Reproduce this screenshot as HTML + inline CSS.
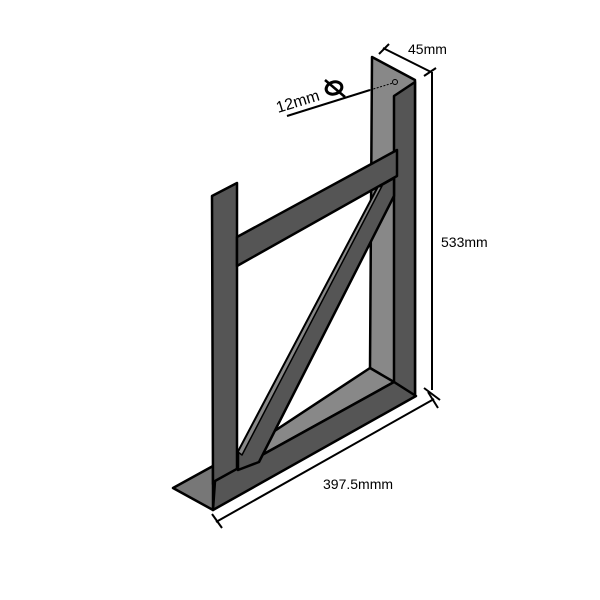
<!DOCTYPE html>
<html><head><style>body{margin:0;background:#fff}svg{display:block}</style></head><body>
<svg width="600" height="600" viewBox="0 0 600 600" xmlns="http://www.w3.org/2000/svg" font-family="Liberation Sans, sans-serif">
<g stroke="#000" stroke-width="2.5" stroke-linejoin="round">
<!-- right post back face -->
<polygon points="372,57 415,80 415,395 370,368" fill="#888"/>
<!-- right post front face -->
<polygon points="394,96 415,82 415,396 394,383" fill="#555"/>
<!-- base plate foot -->
<polygon points="173,488 213,466 213,510" fill="#777"/>
<!-- base top face -->
<polygon points="370,368 394,382 215,481 238,455" fill="#888"/>
<!-- left post -->
<polygon points="212,196 237,183 237,470 213,484" fill="#555"/>
<!-- base front face -->
<polygon points="215,481 394,382 416,396 213,510" fill="#555"/>
<!-- crossbar -->
<polygon points="237,237 397,150 397,176 237,266" fill="#555"/>
<!-- diagonal -->
<polygon points="378,187 394,178 394,196 259,462 238,470 238,452" fill="#555"/>
<polygon points="378,187 382,186 242,455 238,452" fill="#888" stroke-width="1.5"/>
</g>
<circle cx="395" cy="82" r="2.5" fill="none" stroke="#000" stroke-width="1"/>
<!-- dimension lines -->
<g stroke="#000" stroke-width="2" fill="none">
<line x1="383" y1="48" x2="431" y2="72"/>
<line x1="379" y1="54" x2="389" y2="44"/>
<line x1="424" y1="76" x2="436" y2="68"/>
<line x1="432" y1="72" x2="432" y2="390"/>
<line x1="424" y1="388" x2="440" y2="400"/>
<line x1="216" y1="522" x2="434" y2="399"/>
<line x1="212" y1="514" x2="222" y2="528"/>
<line x1="428" y1="392" x2="438" y2="408"/>
<line x1="287" y1="116" x2="370" y2="90"/>
<ellipse cx="334" cy="88" rx="8" ry="6" transform="rotate(-17 334 88)" stroke-width="3"/>
<line x1="325" y1="80" x2="345" y2="97" stroke-width="2.5"/>
</g>
<line x1="370" y1="90" x2="393" y2="83" stroke="#000" stroke-width="1" stroke-dasharray="2,1.5"/>
<text x="408" y="54" font-size="14">45mm</text>
<text x="441" y="247" font-size="14">533mm</text>
<text x="323" y="489" font-size="14">397.5mmm</text>
<text x="0" y="0" font-size="16" transform="translate(278,113) rotate(-17)">12mm</text>
</svg>
</body></html>
